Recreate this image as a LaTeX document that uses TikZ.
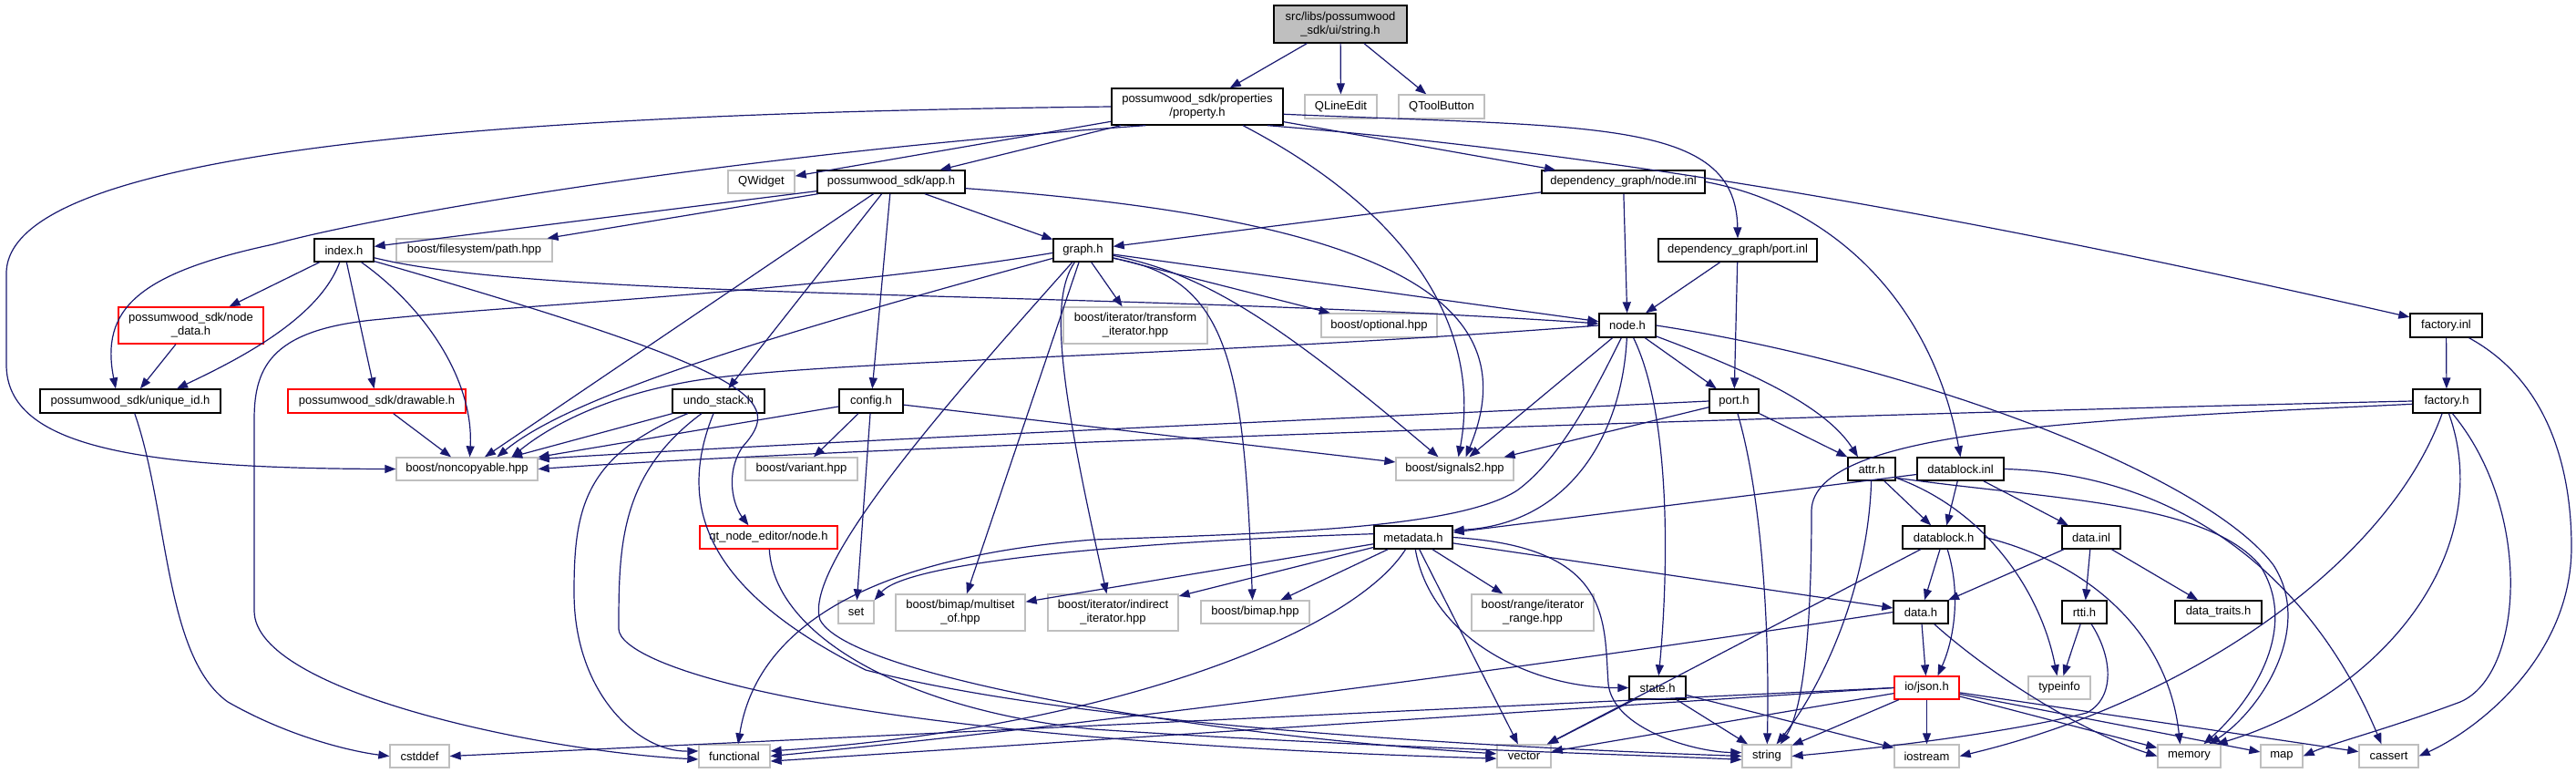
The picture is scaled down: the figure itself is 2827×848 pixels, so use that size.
\documentclass[tikz,border=0pt]{standalone}
\usepackage{fontspec}
\setmainfont{Liberation Sans}
\usetikzlibrary{arrows.meta}
\definecolor{edgeblue}{RGB}{25,25,112}
\definecolor{lightg}{RGB}{191,191,191}
\begin{document}
\begin{tikzpicture}[x=1pt,y=-1pt,
  every node/.style={font=\fontsize{13}{15}\selectfont, inner sep=0pt, align=center},
  sz/.style 2 args={minimum width=#1pt, minimum height=#2pt},
  fb/.style={draw=black, line width=1.3pt, fill=white},
  gb/.style={draw=lightg, line width=1.3pt, fill=white},
  rb/.style={draw=red, line width=1.3pt, fill=white},
  dep/.style={draw=edgeblue, line width=1.2pt, -{Triangle[length=12pt,width=9pt]}}]
\useasboundingbox (0,0) rectangle (2827,848);
% nodes
\node[fb, fill=lightg, sz={146}{41}] (str) at (1471,26.5) {src/libs/possumwood\\\_sdk/ui/string.h};
\node[fb, sz={188}{40}] (prop) at (1314,117) {possumwood\_sdk/properties\\/property.h};
\node[gb, sz={79}{26}] (qle) at (1471.5,117) {QLineEdit};
\node[gb, sz={94}{26}] (qtb) at (1582,117) {QToolButton};
\node[gb, sz={73}{25}] (qw) at (835.5,199.5) {QWidget};
\node[fb, sz={162}{25}] (app) at (978,199.5) {possumwood\_sdk/app.h};
\node[fb, sz={179}{25}] (ninl) at (1781.5,199.5) {dependency\_graph/node.inl};
\node[fb, sz={65}{25}] (idx) at (377.5,274.5) {index.h};
\node[gb, sz={171}{25}] (fsp) at (520.5,274.5) {boost/filesystem/path.hpp};
\node[fb, sz={65}{25}] (graph) at (1188.5,274.5) {graph.h};
\node[fb, sz={174}{25}] (pinl) at (1907,274.5) {dependency\_graph/port.inl};
\node[fb, sz={79}{26}] (finl) at (2684.5,357) {factory.inl};
\node[rb, sz={159}{40}] (ndata) at (209.5,357) {possumwood\_sdk/node\\\_data.h};
\node[gb, sz={158}{40}] (trans) at (1246,357) {boost/iterator/transform\\\_iterator.hpp};
\node[gb, sz={127}{26}] (opt) at (1513.5,357) {boost/optional.hpp};
\node[fb, sz={62}{26}] (nodeh) at (1786,357) {node.h};
\node[fb, sz={198}{26}] (uid) at (143,440) {possumwood\_sdk/unique\_id.h};
\node[rb, sz={195}{26}] (draw) at (413.5,440) {possumwood\_sdk/drawable.h};
\node[fb, sz={101}{26}] (undo) at (788.5,440) {undo\_stack.h};
\node[fb, sz={70}{26}] (cfg) at (956,440) {config.h};
\node[fb, sz={54}{26}] (port) at (1903,440) {port.h};
\node[fb, sz={74}{26}] (fach) at (2685,440) {factory.h};
\node[gb, sz={155}{25}] (nonc) at (512.5,514.5) {boost/noncopyable.hpp};
\node[gb, sz={123}{25}] (var) at (879.5,514.5) {boost/variant.hpp};
\node[gb, sz={129}{25}] (sig) at (1596.5,514.5) {boost/signals2.hpp};
\node[fb, sz={52}{25}] (attr) at (2054,514.5) {attr.h};
\node[fb, sz={95}{25}] (dbinl) at (2151.5,514.5) {datablock.inl};
\node[rb, sz={151}{25}] (qtn) at (843.5,589.5) {qt\_node\_editor/node.h};
\node[fb, sz={86}{25}] (meta) at (1551,589.5) {metadata.h};
\node[fb, sz={90}{25}] (dbh) at (2133,589.5) {datablock.h};
\node[fb, sz={64}{25}] (dinl) at (2295,589.5) {data.inl};
\node[gb, sz={39}{25}] (set) at (939.5,671.5) {set};
\node[gb, sz={142}{40}] (mso) at (1054,672) {boost/bimap/multiset\\\_of.hpp};
\node[gb, sz={143}{40}] (ind) at (1221.5,672) {boost/iterator/indirect\\\_iterator.hpp};
\node[gb, sz={119}{25}] (bim) at (1377.5,671.5) {boost/bimap.hpp};
\node[gb, sz={134}{40}] (rng) at (1682,672) {boost/range/iterator\\\_range.hpp};
\node[fb, sz={60}{25}] (datah) at (2108,671.5) {data.h};
\node[fb, sz={49}{25}] (rtti) at (2287.5,671.5) {rtti.h};
\node[fb, sz={95}{25}] (dtr) at (2434.5,671.5) {data\_traits.h};
\node[fb, sz={62}{25}] (state) at (1819,754.5) {state.h};
\node[rb, sz={71}{25}] (json) at (2114.5,754.5) {io/json.h};
\node[gb, sz={68}{25}] (tinfo) at (2260,754.5) {typeinfo};
\node[gb, sz={65}{25}] (cstd) at (460.5,829.5) {cstddef};
\node[gb, sz={78}{25}] (func) at (806,829.5) {functional};
\node[gb, sz={59}{25}] (vec) at (1672.5,829.5) {vector};
\node[gb, sz={54}{25}] (strg) at (1939,829.5) {string};
\node[gb, sz={71}{25}] (ios) at (2114.5,829.5) {iostream};
\node[gb, sz={69}{25}] (mem) at (2402.5,829.5) {memory};
\node[gb, sz={46}{25}] (map) at (2504,829.5) {map};
\node[gb, sz={65}{25}] (cas) at (2621.5,829.5) {cassert};
% edges: string.h
\draw[dep] (str) -- (prop);
\draw[dep] (str) -- (qle);
\draw[dep] (str) -- (qtb);
% property.h
\draw[dep] (prop.west) .. controls (500,125) and (7,170) .. (7,300) -- (7,400) .. controls (7,490) and (150,514) .. (nonc.west);
\draw[dep] (prop.200) .. controls (800,170) and (420,235) .. (300,268) .. controls (150,300) and (110,340) .. ([xshift=-16pt]uid.north);
\draw[dep] (prop) -- (qw);
\draw[dep] (prop) -- (app);
\draw[dep] ([xshift=50pt]prop.south) .. controls (1560,240) and (1625,370) .. ([xshift=4pt]sig.north);
\draw[dep] (prop) -- (ninl);
\draw[dep] (prop.-5) .. controls (1750,140) and (1905,130) .. (pinl.north);
\draw[dep] (prop.-15) .. controls (1850,175) and (2280,265) .. (finl);
% app.h
\draw[dep] (app) -- (idx);
\draw[dep] (app) -- (fsp);
\draw[dep] (app) -- (graph);
\draw[dep] (app.-5) .. controls (1520,240) and (1680,330) .. ([xshift=12pt]sig.north);
\draw[dep] (app) -- (nonc);
\draw[dep] (app) -- (undo);
\draw[dep] (app) -- (cfg);
% node.inl, port.inl, factory.inl
\draw[dep] (ninl) -- (graph);
\draw[dep] (ninl) -- (nodeh);
\draw[dep] (ninl.east) .. controls (2010,225) and (2120,330) .. (dbinl.north);
\draw[dep] (pinl) -- (nodeh);
\draw[dep] (pinl) -- (port);
\draw[dep] (finl) -- (fach);
\draw[dep] ([xshift=25pt]finl.south) .. controls (2800,420) and (2822,520) .. (2822,600) .. controls (2822,720) and (2720,800) .. (cas.east);
% index.h
\draw[dep] (idx) -- (ndata);
\draw[dep] (idx) .. controls (350,350) and (260,395) .. ([xshift=51pt]uid.north);
\draw[dep] (idx) -- (draw);
\draw[dep] ([xshift=19pt]idx.south) .. controls (470,340) and (520,420) .. ([xshift=3pt]nonc.north);
\draw[dep] (idx.-20) .. controls (840,410) and (860,440) .. (815,490) .. controls (795,520) and (805,555) .. ([xshift=-22pt]qtn.north);
\draw[dep] (idx) .. controls (600,330) and (1200,318) .. (nodeh);
% graph.h
\draw[dep] (graph) -- (nodeh);
\draw[dep] (graph) -- (trans);
\draw[dep] (graph) -- (opt);
\draw[dep] (graph.-10) .. controls (1320,300) and (1400,350) .. ([xshift=-18pt]sig.north);
\draw[dep] (graph.195) .. controls (800,380) and (620,440) .. ([xshift=33pt]nonc.north);
\draw[dep] (graph.185) .. controls (900,320) and (560,335) .. (420,350) .. controls (300,360) and (279,400) .. (279,460) -- (279,670) .. controls (279,760) and (600,825) .. (func.185);
\draw[dep] (graph) .. controls (1050,430) and (880,620) .. (900,680) .. controls (930,740) and (1300,805) .. (vec.175);
\draw[dep] (graph) -- (mso);
\draw[dep] (graph) .. controls (1150,330) and (1165,430) .. ([xshift=-7pt]ind.north);
\draw[dep] (graph.-15) .. controls (1350,305) and (1365,400) .. ([xshift=-3pt]bim.north);
% node.h
\draw[dep] (nodeh.west) .. controls (1300,392) and (900,395) .. (760,418) .. controls (660,435) and (600,470) .. ([xshift=49pt]nonc.north);
\draw[dep] (nodeh) -- (sig);
\draw[dep] (nodeh) .. controls (1745,440) and (1710,505) .. (1665,538) .. controls (1600,580) and (1400,585) .. (1200,592) .. controls (950,612) and (830,690) .. ([xshift=4pt]func.north);
\draw[dep] (nodeh) .. controls (1780,480) and (1720,575) .. (meta.10);
\draw[dep] (nodeh) .. controls (1836,460) and (1830,640) .. (state);
\draw[dep] (nodeh) -- (port);
\draw[dep] (nodeh) .. controls (1900,400) and (2000,440) .. ([xshift=-15pt]attr.north);
\draw[dep] (nodeh.east) .. controls (2100,400) and (2420,520) .. (2495,620) .. controls (2540,690) and (2480,780) .. ([xshift=22pt]mem.north);
% port.h
\draw[dep] (port.west) .. controls (1500,458) and (900,484) .. (nonc.8);
\draw[dep] (port) -- (sig);
\draw[dep] (port) .. controls (1935,550) and (1942,700) .. (strg);
\draw[dep] (port) -- (attr);
% factory.h
\draw[dep] (fach.west) .. controls (2200,450) and (1000,486) .. (nonc.east);
\draw[dep] (fach.185) .. controls (2300,460) and (1990,470) .. (1988,560) .. controls (1988,700) and (1978,780) .. ([xshift=15pt]strg.north);
\draw[dep] (fach) .. controls (2620,620) and (2400,770) .. (ios.east);
\draw[dep] (fach.-80) .. controls (2740,600) and (2620,760) .. ([xshift=30pt]mem.north);
\draw[dep] (fach.-65) .. controls (2780,560) and (2770,740) .. (2700,770) .. controls (2620,800) and (2560,815) .. (map.east);
% attr.h
\draw[dep] (attr) .. controls (2050,650) and (1995,760) .. (strg);
\draw[dep] (attr) -- (dbh);
\draw[dep] (attr) .. controls (2180,560) and (2240,650) .. (tinfo);
\draw[dep] (attr.-20) .. controls (2250,548) and (2420,550) .. (2480,620) .. controls (2525,690) and (2470,770) .. ([xshift=16pt]mem.north);
% datablock.inl
\draw[dep] (dbinl) -- (meta);
\draw[dep] (dbinl) -- (dbh);
\draw[dep] (dbinl) -- (dinl);
\draw[dep] (dbinl.east) .. controls (2400,520) and (2540,640) .. ([xshift=-8pt]cas.north);
% datablock.h
\draw[dep] (dbh) -- (datah);
\draw[dep] (dbh) .. controls (2152,650) and (2145,700) .. ([xshift=12pt]json.north);
\draw[dep] (dbh) -- (vec);
\draw[dep] (dbh.east) .. controls (2300,620) and (2380,700) .. ([xshift=-10pt]mem.north);
% data.inl
\draw[dep] (dinl) -- (datah);
\draw[dep] (dinl) -- (rtti);
\draw[dep] (dinl) -- (dtr);
% data.h
\draw[dep] (datah) -- (json);
\draw[dep] (datah) .. controls (2190,745) and (2290,805) .. (mem.west);
\draw[dep] (datah.west) .. controls (1600,745) and (1100,805) .. (func.east);
% rtti.h
\draw[dep] (rtti) -- (tinfo);
\draw[dep] (rtti.-60) .. controls (2318,720) and (2322,765) .. (2290,782) .. controls (2200,805) and (2050,822) .. (strg.east);
% io/json.h
\draw[dep] (json) -- (strg);
\draw[dep] (json) -- (ios);
\draw[dep] (json) -- (mem);
\draw[dep] (json) -- (map);
\draw[dep] (json) -- (cas);
\draw[dep] (json) -- (vec);
\draw[dep] (json.west) -- (func.-8);
\draw[dep] (json.west) -- (cstd.east);
% state.h
\draw[dep] (state) -- (vec);
\draw[dep] (state) -- (strg);
\draw[dep] (state) -- (ios);
% metadata.h
\draw[dep] (meta.175) .. controls (1300,592) and (1000,612) .. (set.north east);
\draw[dep] (meta) -- (mso);
\draw[dep] (meta) -- (ind);
\draw[dep] (meta) -- (bim);
\draw[dep] (meta) -- (rng);
\draw[dep] (meta) .. controls (1480,700) and (1200,800) .. (func.8);
\draw[dep] (meta) -- (vec);
\draw[dep] (meta) .. controls (1570,700) and (1680,755) .. (state.west);
\draw[dep] (meta.east) .. controls (1770,600) and (1760,680) .. (1765,750) .. controls (1770,800) and (1860,825) .. (strg.172);
\draw[dep] (meta) -- (datah);
% undo_stack.h
\draw[dep] (undo) -- (nonc);
\draw[dep] (undo) .. controls (640,500) and (630,560) .. (630,650) .. controls (630,760) and (700,825) .. (func.172);
\draw[dep] (undo) .. controls (680,520) and (679,600) .. (679,690) .. controls (680,730) and (900,810) .. (vec.185);
\draw[dep] (undo) .. controls (740,560) and (780,650) .. (950,735) .. controls (1200,800) and (1700,822) .. (strg.west);
% config.h
\draw[dep] (cfg) -- (nonc);
\draw[dep] (cfg) -- (var);
\draw[dep] (cfg) -- (set);
\draw[dep] (cfg) -- (sig);
% others
\draw[dep] (qtn) .. controls (850,700) and (1000,780) .. (1200,800) .. controls (1500,820) and (1800,828) .. (strg.188);
\draw[dep] (draw) -- (nonc);
\draw[dep] (ndata) -- (uid);
\draw[dep] (uid) .. controls (185,560) and (180,720) .. (250,770) .. controls (320,810) and (390,825) .. (cstd.west);
\end{tikzpicture}
\end{document}
